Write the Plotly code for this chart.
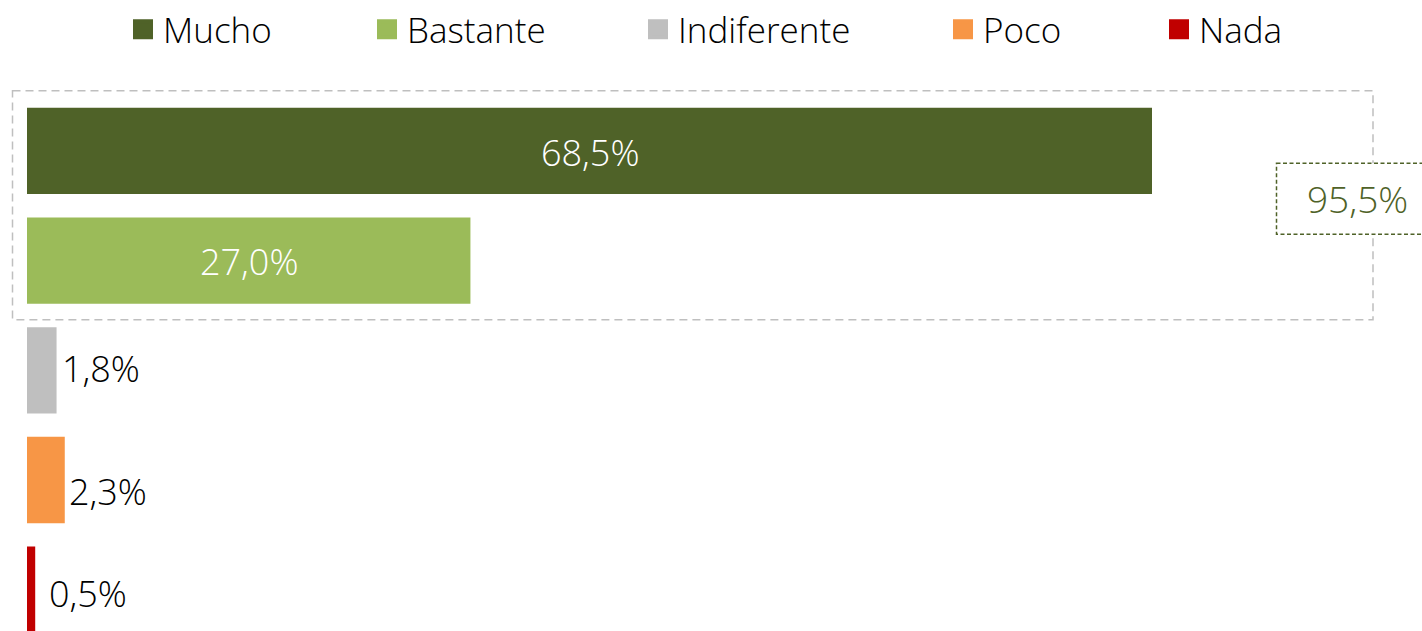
import plotly.graph_objects as go

# ---- data ----
categories = ["Mucho", "Bastante", "Indiferente", "Poco", "Nada"]
values = [68.5, 27.0, 1.8, 2.3, 0.5]
labels = ["68,5%", "27,0%", "1,8%", "2,3%", "0,5%"]
total_label = "95,5%"

# ---- styles ----
colors = ["#4F6228", "#9BBB59", "#BFBFBF", "#F79646", "#C00000"]
label_inside = [True, True, False, False, False]
label_xshift = [0, 0, 3, 2, 12]
label_yshift = [-2, -1, 2, -11, -4]

W, H = 1422, 631
ML = 27
MT = 92.25
PW, PH = W - ML, H - MT
XMAX = PW / (1125 / 68.5)
STEP = 110.5
YBOT = (H - 147.5) / STEP


def px(x):
    return (x - ML) / PW


def py(y):
    return (H - y) / PH


FONT = "Open Sans"

fig = go.Figure()
for i, (c, v, col) in enumerate(zip(categories, values, colors)):
    fig.add_trace(go.Bar(
        x=[v], y=[c], orientation="h", marker=dict(color=col, line=dict(width=0)),
        width=87 / STEP, showlegend=False, hoverinfo="skip",
    ))

# legend entries (one legend each, positioned like the reference)
legend_text_x = [165, 409, 680, 985, 1201]
legend_keys = ["legend", "legend2", "legend3", "legend4", "legend5"]
for c, col, key in zip(categories, colors, legend_keys):
    fig.add_trace(go.Scatter(
        x=[None], y=[None], mode="markers", name=c, legend=key,
        marker=dict(symbol="square", size=20, color=col, line=dict(width=4, color=col)),
    ))

legend_layout = {}
for key, tx in zip(legend_keys, legend_text_x):
    legend_layout[key] = dict(
        x=px(tx - 42), y=py(25), xanchor="left", yanchor="middle",
        orientation="h", itemwidth=30, bgcolor="rgba(0,0,0,0)",
        font=dict(family=FONT, size=35, color="#000000", weight=300),
        itemsizing="trace",
    )

annotations = []
for c, v, lab, ins, xs, ys in zip(categories, values, labels, label_inside, label_xshift, label_yshift):
    if ins:
        annotations.append(dict(
            x=v / 2, y=c, xref="x", yref="y", text=lab, showarrow=False,
            xanchor="center", yanchor="middle", yshift=ys,
            font=dict(family=FONT, size=36, color="#FFFFFF", weight=300),
        ))
    else:
        annotations.append(dict(
            x=v, y=c, xref="x", yref="y", text=lab, showarrow=False,
            xanchor="left", yanchor="middle", xshift=xs, yshift=ys,
            font=dict(family=FONT, size=36, color="#000000", weight=300),
        ))

annotations.append(dict(
    x=px(1357), y=py(195.4), xref="paper", yref="paper", text=total_label,
    showarrow=False, xanchor="center", yanchor="middle",
    font=dict(family=FONT, size=37, color="#4F6228", weight=300),
))

shapes = [
    dict(type="rect", xref="paper", yref="paper",
         x0=px(12.5), x1=px(1373), y0=py(87), y1=py(317.5),
         line=dict(color="#BFBFBF", width=1.5, dash="8px,5px"),
         fillcolor="rgba(0,0,0,0)", layer="above"),
    dict(type="rect", xref="paper", yref="paper",
         x0=px(1276.5), x1=px(1440), y0=py(160), y1=py(231.5),
         line=dict(color="#4F6228", width=1.5, dash="4px,2.5px"),
         fillcolor="#FFFFFF", layer="above"),
]

fig.update_layout(
    width=W, height=H,
    margin=dict(l=ML, r=0, t=MT, b=0, pad=0),
    paper_bgcolor="#FFFFFF", plot_bgcolor="#FFFFFF",
    barmode="overlay",
    xaxis=dict(range=[0, XMAX], showgrid=False, zeroline=False, showticklabels=False,
               showline=False, fixedrange=True),
    yaxis=dict(range=[YBOT, -0.5], type="category", categoryorder="array",
               categoryarray=categories, showgrid=False, zeroline=False,
               showticklabels=False, showline=False, fixedrange=True),
    annotations=annotations,
    shapes=shapes,
    font=dict(family=FONT),
    **legend_layout,
)

fig.write_html(
    "out.html",
    config={"displayModeBar": False, "staticPlot": True},
    post_script="document.body.style.margin='0';document.body.style.padding='0';"
                "document.documentElement.style.overflow='hidden';",
)
